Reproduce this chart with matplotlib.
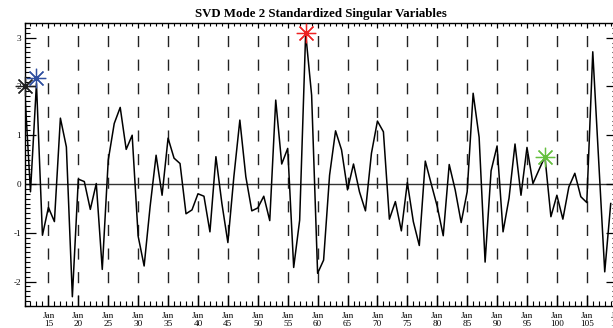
import matplotlib
matplotlib.use("Agg")
import matplotlib.pyplot as plt
import numpy as np
from matplotlib.ticker import MultipleLocator, FixedLocator, NullFormatter

# ---------------- data ----------------
years = list(range(11, 110))
values = [
    2.00, -0.16, 2.06, -1.05, -0.48, -0.77, 1.35, 0.76, -2.31, 0.10,   # 11-20
    0.05, -0.52, 0.01, -1.75, 0.49, 1.24, 1.57, 0.71, 1.00, -1.07,     # 21-30
    -1.68, -0.46, 0.59, -0.23, 0.94, 0.53, 0.42, -0.61, -0.53, -0.20,  # 31-40
    -0.25, -0.98, 0.56, -0.40, -1.20, 0.15, 1.31, 0.15, -0.55, -0.49,  # 41-50
    -0.25, -0.75, 1.72, 0.41, 0.73, -1.71, -0.74, 3.09, 1.82, -1.83,   # 51-60
    -1.56, 0.18, 1.09, 0.70, -0.12, 0.41, -0.16, -0.55, 0.63, 1.29,    # 61-70
    1.07, -0.72, -0.36, -0.96, 0.03, -0.77, -1.26, 0.47, 0.00, -0.46,  # 71-80
    -1.06, 0.40, -0.12, -0.79, -0.16, 1.86, 0.96, -1.60, 0.27, 0.78,   # 81-90
    -0.98, -0.29, 0.82, -0.23, 0.75, 0.01, 0.29, 0.56, -0.67, -0.23,   # 91-100
    -0.72, -0.06, 0.22, -0.26, -0.38, 2.71, 0.45, -1.80, -0.40,        # 101-109
]
star_x = [11, 13, 58, 98]
star_y = [2.00, 2.17, 3.09, 0.56]
star_colors = ["#202020", "#2f4f9f", "#ee2222", "#66c040"]
major_years = list(range(15, 115, 5))
tick_labels = ["Jan\n%d" % y for y in major_years]
ytick_vals = [-2, -1, 0, 1, 2, 3]

title = "SVD Mode 2 Standardized Singular Variables"

# ---------------- figure ----------------
W, H = 613, 328
fig = plt.figure(figsize=(W / 100, H / 100), dpi=100)
left_px, right_px, top_px, bot_px = 24.5, 616.7, 23, 306
ax = fig.add_axes([left_px / W, (H - bot_px) / H,
                   (right_px - left_px) / W, (bot_px - top_px) / H])
serif = ["Liberation Serif", "DejaVu Serif"]

ax.set_xlim(11, 110)
ax.set_ylim(-2.5, 3.3)

# dashed vertical lines at major years
for xv in major_years:
    ax.plot([xv, xv], [3.3, -2.5], color="#222222", lw=1.0,
            linestyle=(8, (8, 9)), zorder=1)
# zero line
ax.axhline(0, color="#333333", lw=1.0, zorder=1)

ax.plot(years, values, color="black", lw=1.1, zorder=3)

for sx, sy, sc in zip(star_x, star_y, star_colors):
    ax.plot([sx], [sy], marker=(8, 2, 0), markersize=14, color=sc,
            markeredgewidth=0.9, linestyle="none", clip_on=False, zorder=10)

ax.set_title(title, fontsize=9.3, fontweight="bold", family=serif, pad=4)

ax.xaxis.set_major_locator(FixedLocator(major_years))
ax.set_xticklabels(tick_labels, family=serif, fontsize=6.6, linespacing=1.05)
ax.xaxis.set_minor_locator(MultipleLocator(1))
ax.yaxis.set_major_locator(FixedLocator(ytick_vals))
ax.set_yticklabels([str(v) for v in ytick_vals], family=serif, fontsize=6.6)
ax.yaxis.set_minor_locator(MultipleLocator(0.1))

ax.tick_params(axis="both", which="both", direction="in", color="black")
ax.tick_params(axis="x", which="major", length=8, width=0.9, pad=4,
               top=False, bottom=True)
ax.tick_params(axis="x", which="minor", length=3.5, width=0.8,
               top=False, bottom=True)
ax.tick_params(axis="y", which="major", length=8, width=0.9, pad=2.5,
               left=True, right=True)
ax.tick_params(axis="y", which="minor", length=3.5, width=0.8,
               left=True, right=True)

# top axis: short ticks
top = ax.secondary_xaxis("top")
top.xaxis.set_major_locator(FixedLocator(major_years))
top.xaxis.set_minor_locator(MultipleLocator(1))
top.xaxis.set_major_formatter(NullFormatter())
top.tick_params(axis="x", which="major", direction="in", length=3.5, width=0.9)
top.tick_params(axis="x", which="minor", direction="in", length=2, width=0.8)
top.spines["top"].set_visible(False)

for s in ax.spines.values():
    s.set_linewidth(1.0)

fig.savefig("out.png", dpi=100)
